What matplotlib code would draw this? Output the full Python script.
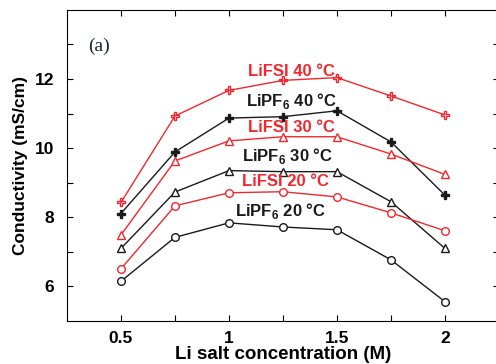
import matplotlib.pyplot as plt
import numpy as np

plt.rcParams['font.family'] = ['Liberation Sans', 'DejaVu Sans']
plt.rcParams['mathtext.fontset'] = 'custom'
plt.rcParams['mathtext.bf'] = 'Liberation Sans:bold'
plt.rcParams['mathtext.rm'] = 'Liberation Sans:bold'

conc = [0.5, 0.75, 1.0, 1.25, 1.5, 1.75, 2.0]

lifsi_40 = [8.43, 10.93, 11.67, 11.96, 12.04, 11.51, 10.96]
lipf6_40 = [8.11, 9.89, 10.87, 10.91, 11.08, 10.18, 8.64]
lifsi_30 = [7.49, 9.63, 10.21, 10.33, 10.33, 9.83, 9.24]
lipf6_30 = [7.10, 8.73, 9.35, 9.32, 9.32, 8.45, 7.10]
lifsi_20 = [6.51, 8.33, 8.71, 8.74, 8.59, 8.13, 7.61]
lipf6_20 = [6.15, 7.42, 7.84, 7.72, 7.64, 6.77, 5.56]

labels = ['LiFSI 40 °C', 'LiPF$_\\mathbf{6}$ 40 °C', 'LiFSI 30 °C',
          'LiPF$_\\mathbf{6}$ 30 °C', 'LiFSI 20 °C', 'LiPF$_\\mathbf{6}$ 20 °C']
label_x = [1.29, 1.29, 1.29, 1.27, 1.26, 1.24]
label_y = [12.23, 11.37, 10.59, 9.78, 9.03, 8.19]

red = '#f0282d'
blk = '#1a1a1a'

fig = plt.figure(figsize=(4.96, 3.64), dpi=100)
ax = fig.add_axes([0.135, 0.118, 0.871, 0.855])

series = [lifsi_40, lipf6_40, lifsi_30, lipf6_30, lifsi_20, lipf6_20]
colors = [red, blk, red, blk, red, blk]
markers = ['P', 'P', '^', '^', 'o', 'o']
fills = ['none', blk, 'white', 'white', 'white', 'white']

for y, c, m, f in zip(series, colors, markers, fills):
    ax.plot(conc, y, color=c, lw=1, marker=m, ms=5.5, mfc=f, mec=c, mew=1)

for txt, x, y, c in zip(labels, label_x, label_y, colors):
    ax.text(x, y, txt, color=c, fontsize=12, fontweight='bold',
            ha='center', va='center')

ax.text(0.40, 12.95, '(a)', fontsize=14, family='Liberation Serif',
        color='#1c2436', ha='center', va='center')

ax.set_xlim(0.25, 2.25)
ax.set_ylim(5, 14)
ax.set_xticks([0.5, 1, 1.5, 2])
ax.set_xticklabels(['0.5', '1', '1.5', '2'])
ax.set_xticks(np.arange(0.5, 2.01, 0.25), minor=True)
ax.set_yticks([6, 8, 10, 12])
ax.set_yticks(np.arange(6, 14, 1), minor=True)
ax.tick_params(which='both', direction='in', top=True, right=True,
               length=4, width=0.8, labelsize=12.5)
ax.tick_params(axis='y', pad=9)
ax.tick_params(axis='x', pad=7.5)
for lab in ax.get_xticklabels() + ax.get_yticklabels():
    lab.set_fontweight('bold')

ax.set_xlabel('Li salt concentration (M)', fontsize=13.5, fontweight='bold', labelpad=0)
ax.set_ylabel('Conductivity (mS/cm)', fontsize=12.5, fontweight='bold', labelpad=5)

plt.savefig('out.png', dpi=100)
